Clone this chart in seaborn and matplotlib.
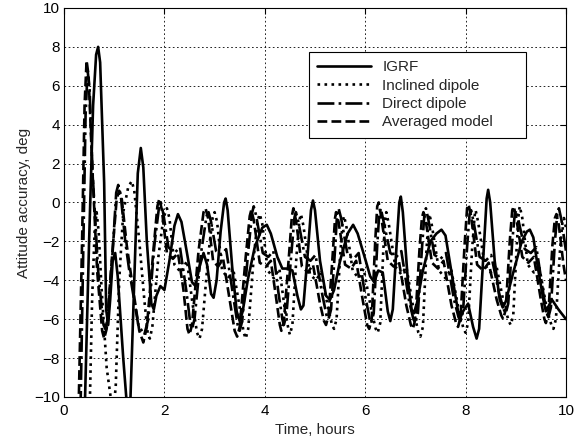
import matplotlib
matplotlib.use("Agg")
import matplotlib.pyplot as plt
import seaborn as sns
import pandas as pd

# Attitude accuracy traces (time in hours, error in deg)
igrf_t = [0.40, 0.50, 0.58, 0.64, 0.68, 0.72, 0.80, 0.84, 0.88, 0.92, 0.97, 1.02, 1.07,
          1.18, 1.30, 1.40, 1.47, 1.53, 1.58, 1.65, 1.74, 1.79, 1.84, 1.92, 2.00, 2.10,
          2.20, 2.27, 2.34, 2.45, 2.55, 2.62, 2.70, 2.78, 2.85, 2.93, 2.98, 3.04, 3.12,
          3.19, 3.22, 3.26, 3.35, 3.44, 3.50, 3.56, 3.66, 3.80, 3.95, 4.04, 4.12, 4.25,
          4.35, 4.45, 4.55, 4.65, 4.72, 4.77, 4.85, 4.92, 4.96, 5.00, 5.10, 5.22, 5.30,
          5.38, 5.50, 5.65, 5.76, 5.85, 6.00, 6.10, 6.18, 6.26, 6.35, 6.45, 6.50, 6.55,
          6.63, 6.68, 6.71, 6.75, 6.85, 6.93, 6.97, 7.03, 7.15, 7.30, 7.42, 7.52, 7.60,
          7.72, 7.85, 7.90, 7.95, 8.05, 8.15, 8.22, 8.27, 8.36, 8.42, 8.45, 8.49, 8.58,
          8.68, 8.74, 8.80, 8.95, 9.12, 9.22, 9.28, 9.35, 9.45, 9.55, 9.60, 9.72, 9.85,
          10.0]
igrf_y = [-12.0, -2.0, 5.0, 7.6, 8.0, 7.2, 1.0, -5.5, -6.3, -5.0, -3.0, -2.6, -3.8,
          -8.0, -12.0, -4.0, 1.5, 2.8, 1.8, -2.0, -5.2, -5.5, -4.8, -4.3, -4.5, -3.0,
          -1.2, -0.6, -1.0, -2.6, -4.1, -4.3, -3.3, -2.6, -3.2, -4.7, -4.9, -4.0, -1.5,
          0.0, 0.2, -0.4, -3.3, -5.6, -6.1, -5.6, -4.0, -2.3, -1.3, -1.15, -1.6, -2.8,
          -3.4, -3.4, -3.5, -4.8, -5.5, -5.3, -2.8, -0.4, 0.1, -0.4, -3.0, -4.8, -5.0,
          -4.5, -3.0, -1.6, -1.15, -1.6, -2.9, -3.8, -4.1, -3.5, -3.6, -5.6, -6.1, -5.5,
          -2.0, 0.0, 0.3, -0.5, -4.0, -5.6, -5.7, -5.2, -3.5, -2.0, -1.6, -1.4, -1.7,
          -3.6, -5.6, -5.9, -5.6, -5.2, -6.4, -7.0, -6.5, -2.5, 0.2, 0.65, 0.0, -3.0,
          -5.0, -5.4, -5.1, -3.6, -2.0, -1.5, -1.4, -1.8, -3.5, -5.0, -5.6, -5.0, -5.5,
          -6.0]

incl_t = [0.50, 0.56, 0.61, 0.65, 0.69, 0.75, 0.85, 0.95, 0.99, 1.03, 1.10, 1.18, 1.28,
          1.35, 1.40, 1.50, 1.60, 1.67, 1.71, 1.76, 1.88, 1.98, 2.05, 2.10, 2.20, 2.33,
          2.45, 2.56, 2.65, 2.70, 2.75, 2.87, 2.96, 3.00, 3.05, 3.15, 3.27, 3.37, 3.50,
          3.58, 3.62, 3.67, 3.78, 3.86, 3.90, 3.95, 4.06, 4.18, 4.29, 4.40, 4.47, 4.50,
          4.55, 4.63, 4.69, 4.72, 4.77, 4.90, 5.02, 5.12, 5.26, 5.34, 5.38, 5.43, 5.50,
          5.55, 5.58, 5.63, 5.75, 5.87, 5.97, 6.12, 6.21, 6.25, 6.30, 6.36, 6.40, 6.42,
          6.47, 6.60, 6.72, 6.82, 6.97, 7.06, 7.10, 7.15, 7.22, 7.26, 7.28, 7.33, 7.47,
          7.60, 7.71, 7.87, 7.96, 8.00, 8.05, 8.13, 8.18, 8.20, 8.25, 8.38, 8.50, 8.61,
          8.77, 8.86, 8.90, 8.95, 9.02, 9.06, 9.08, 9.13, 9.24, 9.36, 9.46, 9.62, 9.71,
          9.75, 9.80, 9.88, 9.93, 9.96, 10.0]
incl_y = [-12.0, -5.0, -1.5, -0.5, -1.5, -4.5, -8.5, -10.4, -10.5, -9.5, -4.0, -0.5, 0.8,
          1.1, 0.6, -2.0, -5.0, -6.8, -7.0, -6.4, -2.8, -0.8, -0.3, -0.8, -3.2, -3.6,
          -3.0, -5.2, -6.7, -7.0, -6.5, -2.8, -0.8, -0.5, -1.0, -3.5, -3.9, -3.4, -5.4,
          -6.7, -7.0, -6.5, -2.8, -0.9, -0.6, -1.1, -3.5, -3.9, -3.4, -5.5, -6.5, -6.8,
          -6.3, -2.8, -0.9, -0.6, -1.2, -3.7, -4.0, -3.6, -5.4, -6.3, -6.5, -6.0, -2.8,
          -1.0, -0.7, -1.3, -3.5, -3.9, -3.4, -5.5, -6.5, -6.7, -6.2, -2.5, -0.8, -0.5,
          -1.1, -3.3, -3.7, -3.3, -5.6, -6.7, -6.9, -6.4, -2.5, -0.9, -0.6, -1.2, -3.5,
          -3.9, -3.4, -5.6, -6.5, -6.7, -6.2, -2.4, -0.7, -0.4, -1.0, -3.2, -3.6, -3.2,
          -5.3, -6.1, -6.3, -5.8, -2.2, -0.5, -0.2, -0.8, -3.2, -3.6, -3.2, -5.5, -6.3,
          -6.5, -6.0, -2.5, -1.0, -0.8, -1.3]

direct_t = [0.32, 0.38, 0.43, 0.47, 0.51, 0.57, 0.68, 0.78, 0.82, 0.87, 0.97, 1.04, 1.08,
            1.13, 1.22, 1.30, 1.48, 1.60, 1.68, 1.80, 1.89, 1.93, 1.98, 2.08, 2.20, 2.31,
            2.44, 2.52, 2.55, 2.60, 2.73, 2.84, 2.88, 2.93, 3.03, 3.13, 3.23, 3.37, 3.46,
            3.50, 3.55, 3.67, 3.75, 3.78, 3.83, 3.96, 4.07, 4.17, 4.27, 4.35, 4.38, 4.43,
            4.53, 4.59, 4.62, 4.67, 4.80, 4.91, 5.01, 5.15, 5.23, 5.27, 5.32, 5.40, 5.44,
            5.47, 5.52, 5.65, 5.77, 5.87, 6.00, 6.09, 6.12, 6.17, 6.24, 6.28, 6.31, 6.36,
            6.50, 6.62, 6.72, 6.87, 6.96, 7.00, 7.05, 7.13, 7.18, 7.21, 7.26, 7.38, 7.50,
            7.61, 7.77, 7.86, 7.90, 7.95, 8.03, 8.08, 8.11, 8.16, 8.28, 8.40, 8.51, 8.67,
            8.76, 8.80, 8.85, 8.93, 8.98, 9.01, 9.06, 9.18, 9.30, 9.41, 9.55, 9.62, 9.65,
            9.70, 9.78, 9.83, 9.86, 9.91, 10.0]
direct_y = [-12.0, -3.0, 4.5, 6.8, 5.8, 1.5, -3.5, -6.2, -6.5, -6.0, -2.5, 0.5, 0.9,
            0.4, -2.0, -3.5, -6.3, -6.8, -6.0, -2.2, -0.3, 0.0, -0.6, -2.3, -2.6, -2.3,
            -4.6, -6.3, -6.5, -6.0, -2.6, -0.7, -0.5, -1.0, -2.5, -2.7, -2.4, -4.8, -6.3,
            -6.6, -6.1, -2.5, -0.5, -0.2, -0.7, -2.6, -2.8, -2.5, -4.6, -6.0, -6.3, -5.8,
            -2.6, -0.8, -0.5, -1.0, -2.8, -3.0, -2.7, -4.8, -5.8, -6.0, -5.5, -2.4, -0.6,
            -0.3, -0.8, -2.7, -2.9, -2.6, -4.8, -6.0, -6.2, -5.7, -2.2, -0.6, -0.3, -0.9,
            -2.6, -2.8, -2.5, -5.0, -6.0, -6.2, -5.7, -2.4, -0.6, -0.3, -0.9, -2.7, -2.9,
            -2.6, -5.0, -5.9, -6.1, -5.6, -2.3, -0.6, -0.4, -1.0, -2.8, -3.0, -2.7, -4.7,
            -5.5, -5.7, -5.2, -2.0, -0.6, -0.4, -1.0, -2.4, -2.6, -2.3, -4.7, -5.7, -5.9,
            -5.4, -2.0, -0.5, -0.3, -0.9, -2.5]

avg_t = [0.28, 0.36, 0.41, 0.45, 0.49, 0.56, 0.66, 0.76, 0.80, 0.85, 0.95, 1.05, 1.10,
         1.15, 1.25, 1.35, 1.50, 1.58, 1.65, 1.78, 1.86, 1.90, 1.95, 2.05, 2.17, 2.27,
         2.38, 2.46, 2.50, 2.55, 2.68, 2.78, 2.82, 2.87, 2.97, 3.07, 3.17, 3.30, 3.40,
         3.45, 3.50, 3.62, 3.70, 3.73, 3.78, 3.90, 4.02, 4.12, 4.22, 4.30, 4.33, 4.38,
         4.48, 4.54, 4.57, 4.62, 4.74, 4.86, 4.96, 5.10, 5.18, 5.22, 5.27, 5.35, 5.40,
         5.42, 5.47, 5.60, 5.72, 5.82, 5.95, 6.04, 6.08, 6.13, 6.20, 6.24, 6.27, 6.31,
         6.45, 6.57, 6.67, 6.82, 6.91, 6.95, 7.00, 7.08, 7.13, 7.16, 7.21, 7.33, 7.45,
         7.56, 7.72, 7.81, 7.85, 7.90, 7.98, 8.03, 8.06, 8.11, 8.23, 8.35, 8.46, 8.62,
         8.71, 8.75, 8.80, 8.88, 8.93, 8.96, 9.01, 9.13, 9.25, 9.36, 9.50, 9.57, 9.60,
         9.65, 9.73, 9.78, 9.81, 9.86, 9.95, 10.0]
avg_y = [-12.0, -2.0, 5.0, 7.3, 6.5, 2.0, -3.5, -6.6, -7.0, -6.5, -3.0, 0.2, 0.6,
         0.2, -2.2, -4.0, -6.6, -7.2, -6.4, -2.5, -0.2, 0.2, -0.4, -2.6, -2.9, -2.6,
         -4.5, -6.5, -6.8, -6.3, -2.5, -0.5, -0.3, -0.8, -3.0, -3.3, -2.9, -5.0, -6.6,
         -6.9, -6.4, -2.8, -0.7, -0.4, -0.9, -3.1, -3.3, -3.0, -4.8, -6.3, -6.6, -6.1,
         -2.8, -0.7, -0.3, -0.9, -3.3, -3.6, -3.2, -5.2, -6.1, -6.3, -5.8, -2.8, -0.8,
         -0.5, -1.0, -3.2, -3.4, -3.0, -5.0, -6.3, -6.5, -6.0, -2.0, -0.2, 0.0, -0.6,
         -3.0, -3.3, -3.0, -5.3, -6.3, -6.5, -6.0, -2.5, -0.8, -0.5, -1.0, -3.1, -3.4,
         -3.0, -5.3, -6.2, -6.4, -5.9, -2.2, -0.3, -0.1, -0.7, -3.2, -3.5, -3.1, -5.0,
         -5.8, -6.0, -5.5, -2.0, -0.4, -0.2, -0.8, -2.8, -3.1, -2.8, -5.0, -6.0, -6.2,
         -5.7, -2.2, -0.8, -0.6, -1.2, -3.2, -4.0]

series = [
    ("IGRF", igrf_t, igrf_y, "-"),
    ("Inclined dipole", incl_t, incl_y, ":"),
    ("Direct dipole", direct_t, direct_y, "-."),
    ("Averaged model", avg_t, avg_y, "--"),
]

sns.set_style("white")
plt.rcParams["font.family"] = ["Liberation Sans", "DejaVu Sans"]

fig = plt.figure(figsize=(5.74, 4.43), dpi=100)
ax = fig.add_axes([0.1115, 0.104, 0.8745, 0.878])

for name, t, y, ls in series:
    df = pd.DataFrame({"t": t, "y": y})
    sns.lineplot(data=df, x="t", y="y", ax=ax, color="black", linestyle=ls,
                 linewidth=1.9, label=name, sort=False, estimator=None)

ax.set_xlim(0, 10)
ax.set_ylim(-10, 10)
ax.set_xticks(range(0, 11, 2))
ax.set_yticks(range(-10, 11, 2))
ax.grid(True, color="black", linestyle=(0, (2, 3)), linewidth=0.6)
ax.tick_params(direction="in", length=4, labelsize=11, top=True, right=True,
               colors="black")
ax.tick_params(axis="x", pad=5)
ax.tick_params(axis="y", pad=3)
for s in ax.spines.values():
    s.set_color("black")
    s.set_linewidth(0.8)
ax.set_xlabel("Time, hours", fontsize=11, labelpad=4)
ax.set_ylabel("Attitude accuracy, deg", fontsize=11, labelpad=2)

# MATLAB-style legend box: wider than its text
leg = ax.legend(loc="upper left", bbox_to_anchor=(0.488, 0.671, 0.432, 0.216),
                mode="expand", fontsize=11, frameon=True, fancybox=False,
                handlelength=3.5, handletextpad=0.75, borderpad=0.55,
                borderaxespad=0, labelspacing=0.28)
leg.get_frame().set_edgecolor("black")
leg.get_frame().set_linewidth(0.8)
leg.get_frame().set_alpha(1)

fig.savefig("out.png", dpi=100)
